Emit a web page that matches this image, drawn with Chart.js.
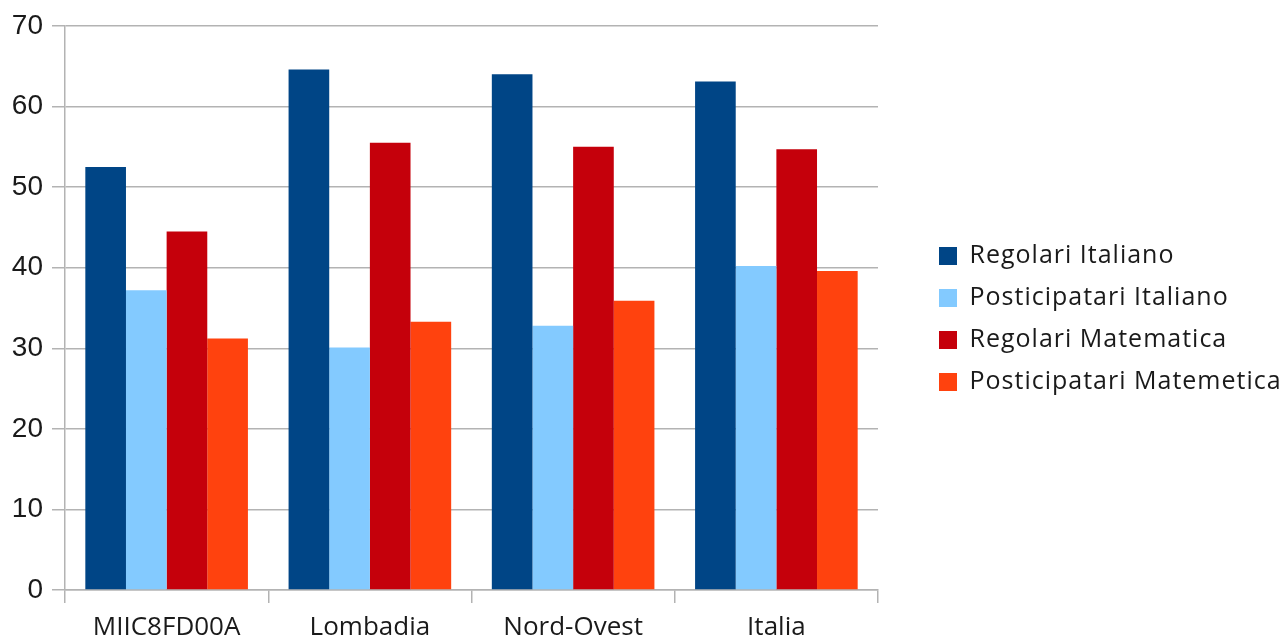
<!DOCTYPE html>
<html>
<head>
<meta charset="utf-8">
<script src="https://cdn.jsdelivr.net/npm/chart.js@4.4.0/dist/chart.umd.min.js"></script>
<style>
  html, body { margin: 0; padding: 0; background: #ffffff; }
  #wrap { width: 1286px; height: 640px; position: relative; }
</style>
</head>
<body>
<div id="wrap"><canvas id="c" width="1286" height="640"></canvas></div>
<script>
const categories = ["MIIC8FD00A", "Lombadia", "Nord-Ovest", "Italia"];
const seriesNames = ["Regolari Italiano", "Posticipatari Italiano", "Regolari Matematica", "Posticipatari Matemetica"];
const regolariItaliano = [52.5, 64.6, 64.0, 63.1];
const posticipatariItaliano = [37.2, 30.1, 32.8, 40.2];
const regolariMatematica = [44.5, 55.5, 55.0, 54.7];
const posticipatariMatemetica = [31.2, 33.3, 35.9, 39.6];
const yTicks = [0, 10, 20, 30, 40, 50, 60, 70];

const colors = ["#004586", "#83caff", "#c5000b", "#ff420e"];
const values = [regolariItaliano, posticipatariItaliano, regolariMatematica, posticipatariMatemetica];
const GRID = "#b3b3b3";

const legendLayout = {
  id: 'legendLayout',
  beforeInit(chart) {
    const lg = chart.legend;
    const origFit = lg.fit;
    lg.fit = function () {
      origFit.call(this);
      this.width = 408;
    };
    const origDraw = lg.draw;
    lg.draw = function (...args) {
      const ctx = this.ctx;
      ctx.save();
      ctx.letterSpacing = '1px';
      origDraw.apply(this, args);
      ctx.restore();
    };
  },
  afterLayout(chart) {
    const lg = chart.legend;
    lg.left += 44; lg.right += 44;
    lg.top -= 14; lg.bottom -= 14;
  }
};

new Chart(document.getElementById('c'), {
  type: 'bar',
  data: {
    labels: categories,
    datasets: seriesNames.map((n, i) => ({
      label: n,
      data: values[i],
      backgroundColor: colors[i],
      borderWidth: 0,
      categoryPercentage: 0.8,
      barPercentage: 1.0
    }))
  },
  options: {
    responsive: false,
    animation: false,
    devicePixelRatio: 1,
    layout: { padding: { top: 26, left: 0, right: 0, bottom: 0 } },
    plugins: {
      tooltip: { enabled: false },
      legend: {
        position: 'right',
        align: 'center',
        labels: {
          boxWidth: 18,
          boxHeight: 18,
          padding: 17,
          color: '#1a1a1a',
          font: { family: 'Open Sans', size: 25 }
        }
      }
    },
    scales: {
      x: {
        offset: true,
        grid: {
          offset: true,
          display: true,
          drawOnChartArea: true,
          color: (ctx) => (ctx.index === categories.length ? GRID : 'rgba(0,0,0,0)'),
          tickColor: GRID,
          tickLength: 13,
          lineWidth: 1.5
        },
        border: { display: true, color: GRID, width: 1.5 },
        ticks: {
          color: '#1a1a1a',
          padding: 9,
          font: { family: 'Open Sans', size: 26 }
        },
        afterFit: (s) => { s.height = 50; }
      },
      y: {
        min: 0,
        max: 70,
        afterBuildTicks: (s) => { s.ticks = yTicks.map(v => ({ value: v })); },
        grid: {
          color: GRID,
          tickColor: GRID,
          tickLength: 13,
          lineWidth: 1.5
        },
        border: { display: true, color: GRID, width: 1.5 },
        ticks: {
          color: '#1a1a1a',
          padding: 9,
          font: { family: 'Liberation Sans', size: 28 }
        },
        afterFit: (s) => { s.width = 65; }
      }
    }
  },
  plugins: [legendLayout]
});
</script>
</body>
</html>
